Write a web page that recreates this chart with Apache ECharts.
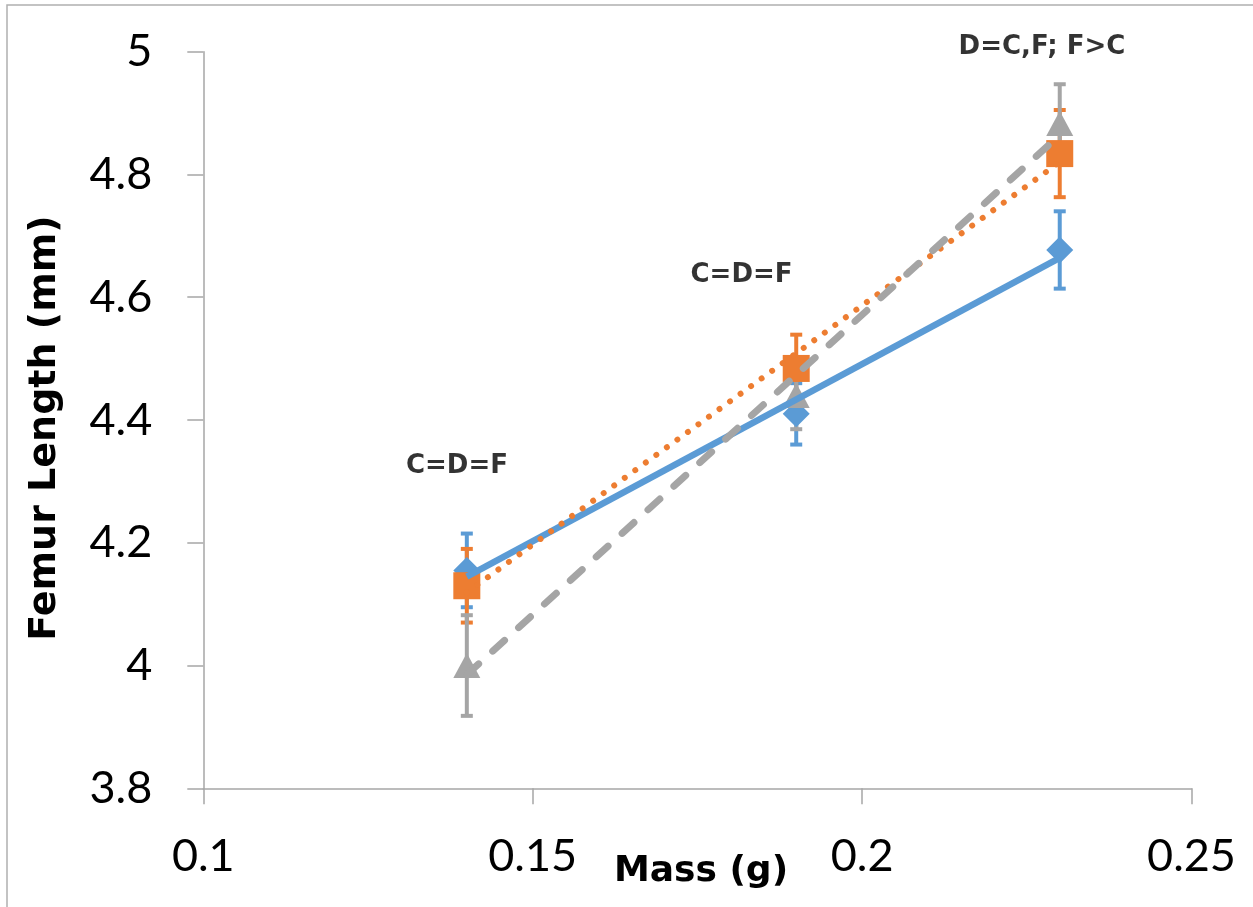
<!DOCTYPE html>
<html>
<head>
<meta charset="utf-8">
<script src="https://cdn.jsdelivr.net/npm/echarts@6/dist/echarts.min.js"></script>
<style>
  html, body { margin: 0; padding: 0; background: #ffffff; }
  #chart { width: 1253px; height: 907px; }
</style>
</head>
<body>
<div id="chart"></div>
<script>
// Mean femur length (mm) against body mass (g), with error bars.
const massC = [0.14, 0.19, 0.23];
const femurC = [4.155, 4.41, 4.677];
const errC = [0.06, 0.05, 0.063];

const massD = [0.14, 0.19, 0.23];
const femurD = [4.13, 4.484, 4.834];
const errD = [0.06, 0.055, 0.071];

const massF = [0.14, 0.19, 0.23];
const femurF = [4.0, 4.44, 4.883];
const errF = [0.082, 0.055, 0.064];

const xTicks = [0.1, 0.15, 0.2, 0.25];
const yTicks = [3.8, 4, 4.2, 4.4, 4.6, 4.8, 5];

// Significance notes: [mass, femur length, text]
const notes = [
  [0.1385, 4.325, 'C=D=F'],
  [0.1817, 4.636, 'C=D=F'],
  [0.2273, 5.008, 'D=C,F; F>C']
];

const COLOR_C = '#5B9BD5';
const COLOR_D = '#ED7D31';
const COLOR_F = '#A5A5A5';
const FONT = 'Lato, "Open Sans", sans-serif';
const BOLD_FONT = '"DejaVu Sans", sans-serif';

function pairs(xs, ys) { return xs.map((x, i) => [x, ys[i]]); }
function triples(xs, ys, es) { return xs.map((x, i) => [x, ys[i], es[i]]); }

// Least-squares straight line across the span of the points
function linearFit(xs, ys) {
  const n = xs.length;
  const mx = xs.reduce((a, b) => a + b, 0) / n;
  const my = ys.reduce((a, b) => a + b, 0) / n;
  let sxy = 0, sxx = 0;
  for (let i = 0; i < n; i++) {
    sxy += (xs[i] - mx) * (ys[i] - my);
    sxx += (xs[i] - mx) * (xs[i] - mx);
  }
  const slope = sxy / sxx;
  const x0 = Math.min(...xs), x1 = Math.max(...xs);
  return [[x0, my + slope * (x0 - mx)], [x1, my + slope * (x1 - mx)]];
}

function errorBarSeries(name, data, color) {
  return {
    name: name,
    type: 'custom',
    z: 1,
    data: data,
    renderItem: function (params, api) {
      const x = api.value(0), y = api.value(1), e = api.value(2);
      const lo = api.coord([x, y - e]);
      const hi = api.coord([x, y + e]);
      const hw = 6;
      const style = { stroke: color, lineWidth: 4, fill: null };
      return {
        type: 'group',
        children: [
          { type: 'line', shape: { x1: lo[0], y1: lo[1], x2: hi[0], y2: hi[1] }, style: style },
          { type: 'line', shape: { x1: lo[0] - hw, y1: lo[1], x2: lo[0] + hw, y2: lo[1] }, style: style },
          { type: 'line', shape: { x1: hi[0] - hw, y1: hi[1], x2: hi[0] + hw, y2: hi[1] }, style: style }
        ]
      };
    }
  };
}

function markerSeries(name, data, color, symbol, size, z) {
  return {
    name: name,
    type: 'scatter',
    z: z,
    symbol: symbol,
    symbolSize: size,
    itemStyle: { color: color, opacity: 1 },
    data: data
  };
}

function trendSeries(name, data, color, width, type, cap) {
  return {
    name: name,
    type: 'line',
    z: 5,
    showSymbol: false,
    silent: true,
    data: data,
    lineStyle: { color: color, width: width, type: type, cap: cap }
  };
}

const chart = echarts.init(document.getElementById('chart'), null, { renderer: 'canvas' });

const axisLineStyle = { color: '#a6a6a6', width: 1.5 };

const option = {
  animation: false,
  backgroundColor: '#ffffff',
  grid: { left: 203.3, right: 61.5, top: 51.7, bottom: 118.7, containLabel: false },
  xAxis: {
    type: 'value',
    min: xTicks[0],
    max: xTicks[xTicks.length - 1],
    interval: 0.05,
    axisLine: { show: true, onZero: false, lineStyle: axisLineStyle },
    axisTick: { show: true, inside: false, length: 16, lineStyle: axisLineStyle },
    splitLine: { show: false },
    axisLabel: {
      margin: 46,
      fontSize: 45,
      lineHeight: 45,
      color: '#000000',
      fontFamily: FONT,
      formatter: v => String(+v.toFixed(2))
    }
  },
  yAxis: {
    type: 'value',
    min: yTicks[0],
    max: yTicks[yTicks.length - 1],
    interval: 0.2,
    axisLine: { show: true, onZero: false, lineStyle: axisLineStyle },
    axisTick: { show: true, inside: false, length: 16, lineStyle: axisLineStyle },
    splitLine: { show: false },
    axisLabel: {
      margin: 51,
      fontSize: 45,
      color: '#000000',
      fontFamily: FONT,
      formatter: v => String(+v.toFixed(1))
    }
  },
  graphic: [
    {
      type: 'rect', z: -10, silent: true,
      shape: { x: 7, y: 5, width: 1300, height: 960 },
      style: { fill: null, stroke: '#b0b0b0', lineWidth: 1.5 }
    },
    {
      type: 'text', z: 10,
      x: 45, y: 428, rotation: Math.PI / 2,
      style: {
        text: 'Femur Length (mm)',
        fontSize: 38, fontWeight: 'bold', fontFamily: BOLD_FONT, fill: '#000000',
        align: 'center', verticalAlign: 'middle'
      }
    },
    {
      type: 'text', z: 10,
      x: 701, y: 872,
      style: {
        text: 'Mass (g)',
        fontSize: 36, fontWeight: 'bold', fontFamily: BOLD_FONT, fill: '#000000',
        align: 'center', verticalAlign: 'middle'
      }
    }
  ],
  series: [
    errorBarSeries('C error', triples(massC, femurC, errC), COLOR_C),
    errorBarSeries('D error', triples(massD, femurD, errD), COLOR_D),
    errorBarSeries('F error', triples(massF, femurF, errF), COLOR_F),
    markerSeries('C', pairs(massC, femurC), COLOR_C, 'diamond', [27, 27], 2),
    markerSeries('D', pairs(massD, femurD), COLOR_D, 'rect', [27, 27], 3),
    markerSeries('F', pairs(massF, femurF), COLOR_F, 'triangle', [27, 25], 4),
    trendSeries('Linear (C)', linearFit(massC, femurC), COLOR_C, 6.5, 'solid', 'butt'),
    trendSeries('Linear (D)', linearFit(massD, femurD), COLOR_D, 6, [0.01, 13], 'round'),
    trendSeries('Linear (F)', linearFit(massF, femurF), COLOR_F, 7, [16, 19], 'round'),
    {
      name: 'notes',
      type: 'scatter',
      z: 10,
      clip: false,
      silent: true,
      symbolSize: 1,
      itemStyle: { color: 'rgba(0,0,0,0)' },
      data: notes,
      label: {
        show: true,
        position: 'inside',
        formatter: p => p.data[2],
        fontSize: 26,
        fontWeight: 'bold',
        fontFamily: BOLD_FONT,
        color: '#000000',
        textBorderWidth: 0
      }
    }
  ]
};

chart.setOption(option);
</script>
</body>
</html>
